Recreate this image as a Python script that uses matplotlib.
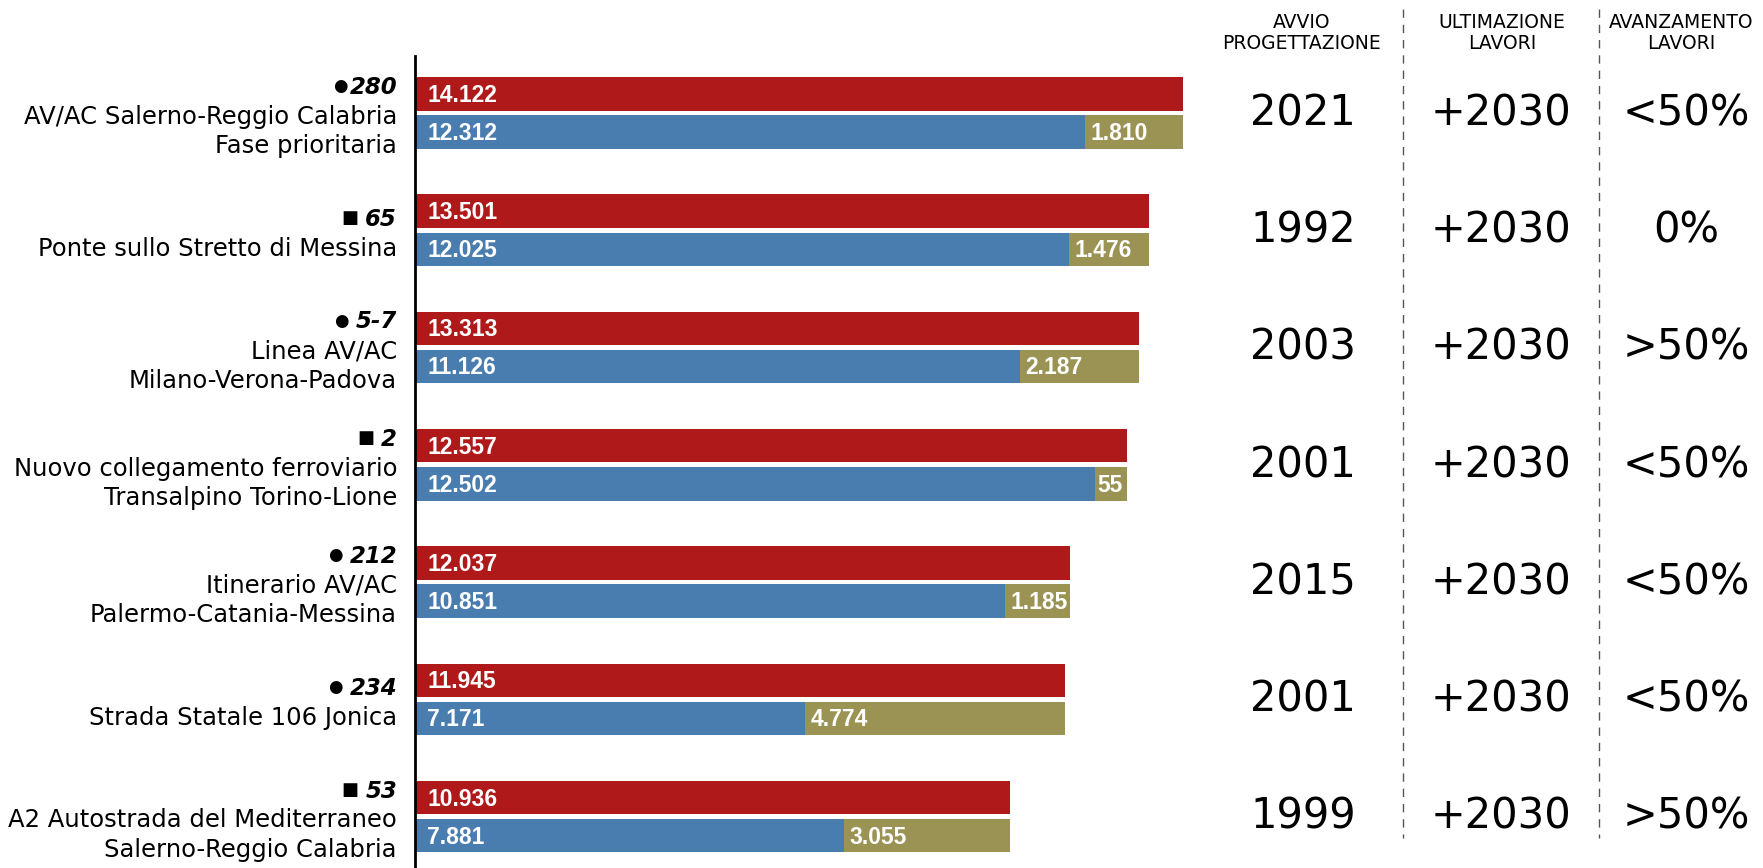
import numpy as np
import matplotlib
matplotlib.use('Agg')
from matplotlib import pyplot as plt
from matplotlib import transforms

# dati
progetti = ['AV/AC Salerno-Reggio Calabria\nFase prioritaria',
            'Ponte sullo Stretto di Messina',
            'Linea AV/AC\nMilano-Verona-Padova',
            'Nuovo collegamento ferroviario\nTransalpino Torino-Lione',
            'Itinerario AV/AC\nPalermo-Catania-Messina',
            'Strada Statale 106 Jonica',
            'A2 Autostrada del Mediterraneo\nSalerno-Reggio Calabria']
simboli = ['●', '■', '●', '■', '●', '●', '■']
numeri = ['280', '65', '5-7', '2', '212', '234', '53']
costo = [14122, 13501, 13313, 12557, 12037, 11945, 10936]
finanziato = [12312, 12025, 11126, 12502, 10851, 7171, 7881]
mancante = [1810, 1476, 2187, 55, 1185, 4774, 3055]
avvio = ['2021', '1992', '2003', '2001', '2015', '2001', '1999']
ultimazione = ['+2030'] * 7
avanzamento = ['<50%', '0%', '>50%', '<50%', '<50%', '<50%', '>50%']
intestazioni = ['AVVIO\nPROGETTAZIONE', 'ULTIMAZIONE\nLAVORI', 'AVANZAMENTO\nLAVORI']

def fmt(v):
    return f'{v:,}'.replace(',', '.')

ROSSO = '#B0191A'
BLU = '#4A7DAF'
OLIVA = '#9A9354'

W, H = 1763, 868
fig = plt.figure(figsize=(W/100, H/100), dpi=100)
ax = fig.add_axes([415/W, 0, (W-415)/W, 1])
ax.set_xlim(0, (W-415)/0.05439)
ax.set_ylim(7.4, 0)
ax.axis('off')

n = len(progetti)
g = np.arange(n)
y_rosso = g + 0.80
y_blu = g + 1.125
centro = g + 0.965
h = 0.285

# segmento minimo visibile
mancante_vis = np.maximum(mancante, 590)
costo_vis = np.maximum(costo, np.array(finanziato) + mancante_vis)

ax.barh(y_rosso, costo_vis, height=h, color=ROSSO)
ax.barh(y_blu, finanziato, height=h, color=BLU)
ax.barh(y_blu, mancante_vis, left=finanziato, height=h, color=OLIVA)

ax.plot([0, 0], [0.48, 7.4], color='black', lw=2, clip_on=False)

valfont = dict(family='Liberation Sans', weight='bold',
               color='white', fontsize=16.5, va='center', ha='left')
for i in range(n):
    ax.annotate(fmt(costo[i]), (0, y_rosso[i]), xytext=(9, -1),
                textcoords='offset points', **valfont)
    ax.annotate(fmt(finanziato[i]), (0, y_blu[i]), xytext=(9, -1),
                textcoords='offset points', **valfont)
    ins = 4 if mancante[i] >= 500 else 1.5
    ax.annotate(fmt(mancante[i]), (finanziato[i], y_blu[i]), xytext=(ins, -1),
                textcoords='offset points', **valfont)

# etichette a sinistra
lab_tr = transforms.blended_transform_factory(fig.transFigure, ax.transData)
xl = 397/W
for i in range(n):
    righe = progetti[i].split('\n')
    k = len(righe) + 1
    y0 = centro[i] + 0.03 - 0.25*(k-1)/2
    t = ax.text(xl, y0, numeri[i], transform=lab_tr, ha='right', va='center',
                fontsize=16.5, fontweight='bold', fontstyle='italic')
    gap = -1 if i == 0 else -5
    ax.annotate(simboli[i], xy=(0, 0.5), xycoords=t, xytext=(gap, 1),
                textcoords='offset points', ha='right', va='center',
                fontsize=12 if simboli[i] == '●' else 13)
    for j, r in enumerate(righe):
        ax.text(xl, y0 + 0.25*(j+1), r, transform=lab_tr, ha='right', va='center',
                fontsize=17.5)

# colonne a destra
colx = [1303/W, 1501/W, 1686/W]
headx = [1302/W, 1502/W, 1681/W]
for c, vals in enumerate([avvio, ultimazione, avanzamento]):
    for i in range(n):
        ax.text(colx[c], centro[i] + 0.0, vals[i], transform=lab_tr,
                ha='center', va='center', fontsize=30)
    fig.text(headx[c], 1 - 33/H, intestazioni[c], ha='center', va='center',
             fontsize=13.5, linespacing=1.15)

for xd in [1403/W, 1599/W]:
    ax.plot([xd, xd], [0.077, 7.14], transform=lab_tr, color='#555555',
            lw=1, ls=(0, (6, 5)), clip_on=False)

fig.savefig('out.png', dpi=100)
